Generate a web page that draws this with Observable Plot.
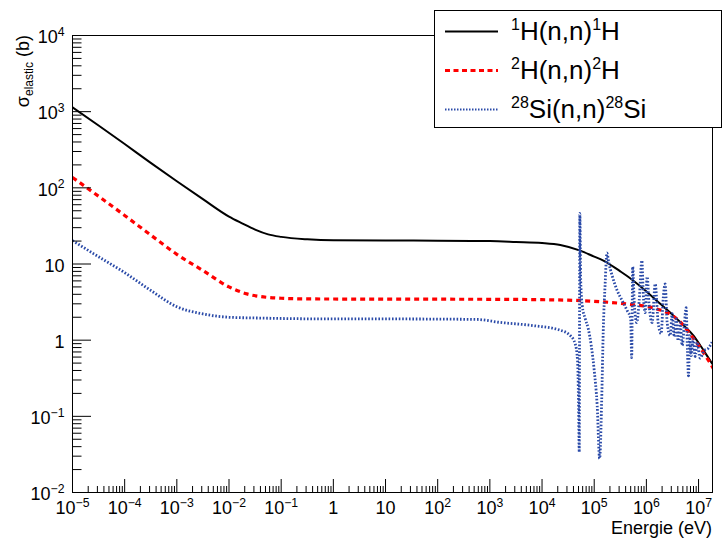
<!DOCTYPE html>
<html><head><meta charset="utf-8">
<script src="https://cdn.jsdelivr.net/npm/d3@7"></script>
<script src="https://cdn.jsdelivr.net/npm/@observablehq/plot@0.6"></script>
<style>
body{margin:0;background:#fff;}
#wrap{position:relative;width:728px;height:540px;}
</style></head><body><div id="wrap"></div>
<script>
// ---- data ----
const h1Energy = [1e-5, 3.16e-5, 1e-4, 3.16e-4, 1e-3, 3.16e-3, 1e-2, 1.78e-2, 3.16e-2, 5.62e-2, 0.1, 0.316, 1, 10, 100, 1e3, 3.16e3, 1e4, 2.24e4, 5.4e4, 1e5, 1.5e5, 3.16e5, 4.2e5, 8.8e5, 1.84e6, 3.3e6, 5e6, 8e6, 1.15e7, 1.8e7, 2e7];
const h1Sigma  = [1140, 658, 376, 213, 122, 71, 41.9, 34.2, 28.3, 24.5, 22.7, 21.1, 20.5, 20.4, 20.2, 20.0, 19.5, 18.9, 17.8, 15.0, 12.5, 11.1, 8.0, 7.0, 4.7, 3.0, 2.1, 1.6, 1.15, 0.80, 0.50, 0.45];

const h2Energy = [1e-5, 3.16e-5, 1e-4, 3.16e-4, 1e-3, 3.16e-3, 1e-2, 2.2e-2, 5.4e-2, 0.1, 0.316, 1, 10, 100, 1e3, 1e4, 3.16e4, 1e5, 4.2e5, 1.37e6, 3.16e6, 5e6, 6.9e6, 1.07e7, 1.34e7, 1.67e7, 1.93e7];
const h2Sigma  = [137, 77.5, 43.4, 24, 13.4, 8.2, 5.0, 4.05, 3.65, 3.55, 3.48, 3.47, 3.46, 3.45, 3.44, 3.40, 3.35, 3.24, 2.98, 2.64, 2.1, 1.6, 1.2, 0.80, 0.63, 0.50, 0.42];

const si28Energy = [1e-5, 2.56e-5, 1e-4, 3.16e-4, 1e-3, 3.16e-3, 1e-2, 4e-2, 1, 10, 100, 562, 1.58e3, 6.9e3, 2.24e4, 3.47e4,
  4.33e4, 4.79e4, 5.0e4, 5.16e4, 5.3e4, 5.51e4, 5.89e4, 6.73e4, 7.67e4, 8.77e4,
  1.0e5, 1.14e5, 1.27e5, 1.39e5, 1.49e5, 1.63e5, 1.75e5, 1.9e5, 2.21e5, 2.76e5,
  3.44e5, 4.29e5, 5.0e5, 5.22e5, 5.47e5, 5.83e5, 6.52e5, 7.28e5, 8.2e5, 8.69e5,
  9.48e5, 1.035e6, 1.13e6, 1.29e6, 1.475e6, 1.68e6, 1.92e6, 2.1e6, 2.29e6, 2.5e6,
  2.86e6, 3.12e6, 3.41e6, 3.72e6, 4.06e6, 4.45e6, 4.85e6, 5.3e6, 5.78e6, 6.12e6,
  6.41e6, 6.76e6, 7.21e6, 7.89e6, 8.61e6, 9.4e6, 1.07e7, 1.28e7, 1.53e7, 1.82e7];
const si28Sigma = [20.3, 13.6, 7.7, 4.5, 2.75, 2.21, 2.0, 1.95, 1.90, 1.90, 1.89, 1.87, 1.71, 1.55, 1.35, 1.15,
  0.89, 0.54, 0.16, 0.034, 46, 6.0, 2.84, 1.91, 1.42, 0.85,
  0.40, 0.138, 0.028, 0.16, 1.33, 6.0, 14, 10.4, 7.0, 4.47,
  3.3, 2.44, 1.91, 0.59, 9.2, 3.3, 1.70, 3.3, 11.1, 4.2,
  2.30, 6.8, 2.84, 1.70, 5.47, 1.70, 1.22, 3.51, 5.47, 1.70,
  1.15, 2.23, 1.11, 1.91, 0.98, 1.70, 0.85, 1.50, 2.67, 0.73,
  0.34, 1.15, 0.625, 1.04, 0.61, 0.94, 0.58, 0.73, 0.78, 0.94];

const xMajorTicks = [1e-5, 1e-4, 1e-3, 1e-2, 1e-1, 1, 10, 1e2, 1e3, 1e4, 1e5, 1e6, 1e7];
const xTickLabels = ["10^-5","10^-4","10^-3","10^-2","10^-1","1","10","10^2","10^3","10^4","10^5","10^6","10^7"];
const yMajorTicks = [1e-2, 1e-1, 1, 10, 1e2, 1e3, 1e4];
const yTickLabels = ["10^-2","10^-1","1","10","10^2","10^3","10^4"];

const seriesColors = ["#000000", "#ff0000", "#2a4aa8"];
const xTitle = "Energie (eV)";

// ---- layout ----
const FONT = "'Liberation Sans', Arial, Helvetica, sans-serif";
const W = 728, H = 540, mL = 72, mR = 16, mT = 35, mB = 48;
const pw = W - mL - mR, ph = H - mT - mB;

const toRows = (E, S) => E.map((e, i) => ({e, s: S[i]}));
const h1 = toRows(h1Energy, h1Sigma);
const h2 = toRows(h2Energy, h2Sigma);
const si = toRows(si28Energy, si28Sigma);

const minorOf = (majors, max) => majors.flatMap(m => [2,3,4,5,6,7,8,9].map(k => k * m)).filter(v => v < max);
const xMinor = minorOf(xMajorTicks, 1.85e7);
const yMinor = minorOf(yMajorTicks, 1e4);
const xLab = new Map(xMajorTicks.map((v, i) => [v, xTickLabels[i]]));
const yLab = new Map(yMajorTicks.map((v, i) => [v, yTickLabels[i]]));

const lineOpts = {x: "e", y: "s", clip: true, curve: "monotone-x", strokeLinecap: "butt", strokeLinejoin: "miter"};

const chart = Plot.plot({
  width: W, height: H,
  marginLeft: mL, marginRight: mR, marginTop: mT, marginBottom: mB,
  style: {fontFamily: FONT, background: "white", color: "black", overflow: "visible"},
  x: {type: "log", domain: [1e-5, 1.85e7]},
  y: {type: "log", domain: [1e-2, 1e4]},
  marks: [
    Plot.line(h1, {...lineOpts, stroke: seriesColors[0], strokeWidth: 2, strokeLinejoin: "round"}),
    Plot.line(h2, {...lineOpts, stroke: seriesColors[1], strokeWidth: 3.2, strokeDasharray: "5,4"}),
    Plot.line(si, {...lineOpts, stroke: seriesColors[2], strokeWidth: 2.8, strokeDasharray: "1.6,1.8"}),
    Plot.frame({stroke: "#000", strokeWidth: 1}),
    Plot.tickY(yMinor, {y: d => d, insetRight: pw - 9.5, stroke: "#000"}),
    Plot.tickY(yMajorTicks, {y: d => d, insetRight: pw - 19, stroke: "#000"}),
    Plot.tickX(xMinor, {x: d => d, insetTop: ph - 6, stroke: "#000"}),
    Plot.tickX(xMajorTicks, {x: d => d, insetTop: ph - 13, stroke: "#000"}),
    Plot.axisY(yMajorTicks, {anchor: "left", tickSize: 0, tickPadding: 8, tickFormat: d => yLab.get(d), fontSize: 18, dy: 2, label: null}),
    Plot.axisX(xMajorTicks, {anchor: "bottom", tickSize: 0, tickPadding: 9, tickFormat: d => xLab.get(d), fontSize: 18, label: null})
  ]
});
document.getElementById("wrap").appendChild(chart);

// superscripts for tick labels
const svg = d3.select(chart);
svg.selectAll('g[aria-label="x-axis tick label"] text, g[aria-label="y-axis tick label"] text').each(function() {
  const t = d3.select(this);
  const s = t.text();
  if (!s.includes("^")) return;
  const [base, exp] = s.split("^");
  t.text(null);
  t.append("tspan").text(base);
  t.append("tspan").attr("font-size", "0.68em").attr("dy", "-0.62em").text(exp.replace("-", "\u2212"));
});

// axis titles
svg.append("text")
  .attr("x", 712).attr("y", 534).attr("text-anchor", "end")
  .attr("font-size", 18).attr("font-family", FONT).attr("fill", "#000")
  .text(xTitle);
const yt = svg.append("text")
  .attr("transform", "translate(29,35) rotate(-90)").attr("text-anchor", "end")
  .attr("font-size", 18).attr("font-family", FONT).attr("fill", "#000");
yt.append("tspan").text("\u03c3");
yt.append("tspan").attr("font-size", 12).attr("dy", 4).text("elastic");
yt.append("tspan").attr("dy", -4).text(" (b)");

// legend
const lg = svg.append("g").attr("font-family", FONT).attr("fill", "#000").attr("text-anchor", "start");
lg.append("rect").attr("x", 434.5).attr("y", 10.5).attr("width", 287).attr("height", 117)
  .attr("fill", "#fff").attr("stroke", "#000").attr("stroke-width", 1);
const entries = [
  {iso: "1", el: "H", dash: null, w: 2},
  {iso: "2", el: "H", dash: "5,3.5", w: 3.2},
  {iso: "28", el: "Si", dash: "1.5,1.5", w: 2.2}
];
entries.forEach((d, i) => {
  const yl = 31.5 + i * 39;
  lg.append("line").attr("x1", 445).attr("x2", 498).attr("y1", yl).attr("y2", yl)
    .attr("stroke", seriesColors[i]).attr("stroke-width", d.w).attr("stroke-dasharray", d.dash);
  const t = lg.append("text").attr("x", 511).attr("y", yl + 8.5).attr("font-size", 26).attr("text-anchor", "start");
  t.append("tspan").attr("font-size", 16).attr("dy", -10).text(d.iso);
  t.append("tspan").attr("dy", 10).text(d.el + "(n,n)");
  t.append("tspan").attr("font-size", 16).attr("dy", -10).text(d.iso);
  t.append("tspan").attr("dy", 10).text(d.el);
});
</script></body></html>
